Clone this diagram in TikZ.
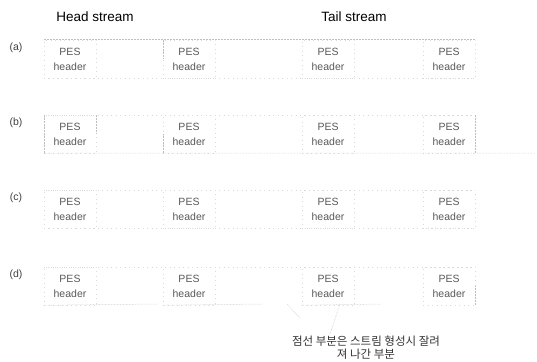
\documentclass[tikz,border=0pt]{standalone}
\usepackage{fontspec}
\setmainfont{Liberation Sans}
\newfontfamily\krfont{Noto Sans CJK KR}
\begin{document}
\begin{tikzpicture}[x=1pt,y=-1pt,
  faint/.style={draw=gray!50, densely dotted, line width=0.5pt},
  fainter/.style={draw=gray!30, loosely dotted, line width=0.5pt},
  hdr/.style={fainter, minimum width=52pt, minimum height=38pt, inner sep=0pt,
              align=center, font=\fontsize{10.5}{15}\selectfont, text=black!65},
  lbl/.style={font=\fontsize{10.5}{12}\selectfont, text=black!75, inner sep=0pt},
  ttl/.style={font=\fontsize{13.5}{15}\selectfont, inner sep=0pt},
  note/.style={font=\krfont\fontsize{11.5}{13}\selectfont, align=center, text=black!80, inner sep=0pt}]
\useasboundingbox (0,0) rectangle (537,361);

\node[ttl] (head) at (95,17) {Head stream};
\node[ttl] (tail) at (354,17) {Tail stream};

\foreach \r/\T in {a/40,b/115,c/190,d/267}{
  \node[lbl] (l\r) at (16,\T+8) {(\r)};
  \node[hdr] (\r1) at (70,\T+19) {PES\\header};
  \node[hdr] (\r2) at (189,\T+19) {PES\\header};
  \node[hdr] (\r3) at (328,\T+19) {PES\\header};
  \node[hdr] (\r4) at (449,\T+19) {PES\\header};
}

% row a
\draw[faint] (a1.north west) -- (a4.north east);
\draw[fainter] (a1.south west) -- (a4.south east);
\draw[faint] (a2.north west) -- (a2.west);
% row b
\draw[fainter] (b1.north west) -- (b4.north east);
\coordinate (bend) at (535,153);
\draw[faint] (b1.south west) -- (bend);
\draw[faint] (b1.north west) -- (b1.south west);
\draw[faint] (b1.north east) -- (b1.east);
\draw[faint] (b2.west) -- (b2.south west);
\draw[faint] (b4.north east) -- (b4.south east);
% row c
\draw[fainter] (c1.north west) -- (c4.north east);
\draw[fainter] (c1.south west) -- (c4.south east);
% row d
\draw[fainter] (d1.north west) -- (d4.north east);
\coordinate (d1e) at (157,304);
\coordinate (d2e) at (262,304);
\coordinate (d3e) at (381,304);
\draw[faint] (d1.south west) -- (d1e);
\draw[faint] (d2.south west) -- (d2e);
\draw[faint] (d3.south west) -- (d3e);
\draw[faint] (d4.east) -- (d4.south east);

% annotation
\node[note] (note) at (366,348) {점선 부분은 스트림 형성시 잘려\\져 나간 부분};
\coordinate (cut1) at (287,304);
\coordinate (cut2) at (340,304);
\coordinate (n1) at (300,318);
\coordinate (n2) at (330,334);
\draw[faint] (n1) -- (cut1);
\draw[faint] (n2) -- (cut2);
\end{tikzpicture}
\end{document}
